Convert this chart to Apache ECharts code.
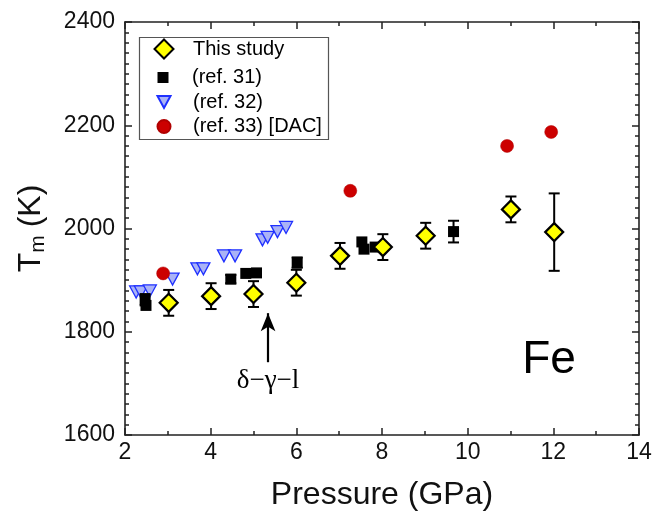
<!DOCTYPE html>
<html>
<head>
<meta charset="utf-8">
<script src="https://cdn.jsdelivr.net/npm/echarts@6/dist/echarts.min.js"></script>
<style>html,body{margin:0;padding:0;background:#fff}#c{width:655px;height:523px}</style>
</head>
<body>
<div id="c"></div>
<script>
// ---- data ----
const thisP = [3.02, 4.01, 5.0, 6.0, 7.02, 8.02, 9.02, 11.01, 12.02];
const thisT = [1856, 1869, 1873, 1895, 1947, 1964, 1986, 2037, 1993];
const thisErr = [25, 25, 25, 25, 25, 25, 25, 25, 75];

const ref31P = [2.47, 2.49, 4.47, 4.82, 5.07, 6.02, 7.53, 7.58, 7.84, 9.67];
const ref31T = [1862, 1851, 1902, 1913, 1914, 1934, 1974, 1960, 1964, 1994];
const ref31Err = [11, 0, 8, 0, 0, 10, 0, 0, 0, 21];

const ref32P = [2.26, 2.37, 2.58, 3.11, 3.69, 3.83, 4.31, 4.57, 5.21, 5.33, 5.56, 5.76];
const ref32T = [1877, 1877, 1879, 1902, 1922, 1922, 1947, 1947, 1978, 1983, 1994, 2002];

const ref33P = [2.89, 7.26, 10.92, 11.95];
const ref33T = [1913, 2073, 2160, 2187];

const seriesNames = ['This study', '(ref. 31)', '(ref. 32)', '(ref. 33) [DAC]'];
const xTicks = [2, 4, 6, 8, 10, 12, 14];
const yTicks = [1600, 1800, 2000, 2200, 2400];
const arrowP = [5.34, 5.34];
const arrowT = [1741, 1836];

// ---- chart ----
const chart = echarts.init(document.getElementById('c'), null, {renderer: 'canvas'});
const FONT = 'Liberation Sans, Arial, sans-serif';
const DOWN_TRI = 'path://M0,0 L12,0 L6,11 Z';

function pairs(P, T) { return P.map((p, i) => [p, T[i]]); }
function errData(P, T, E) {
  const out = [];
  P.forEach((p, i) => { if (E[i] > 0) out.push([p, T[i] - E[i], T[i] + E[i]]); });
  return out;
}
function errSeries(P, T, E, z) {
  return {
    type: 'custom', silent: true, z: z,
    data: errData(P, T, E),
    encode: {x: 0, y: [1, 2]},
    renderItem: function (params, api) {
      const x = api.value(0);
      const lo = api.coord([x, api.value(1)]);
      const hi = api.coord([x, api.value(2)]);
      const w = 5.5;
      const st = {stroke: '#000', lineWidth: 2};
      return {type: 'group', children: [
        {type: 'line', shape: {x1: lo[0], y1: lo[1], x2: hi[0], y2: hi[1]}, style: st},
        {type: 'line', shape: {x1: lo[0] - w, y1: lo[1], x2: lo[0] + w, y2: lo[1]}, style: st},
        {type: 'line', shape: {x1: hi[0] - w, y1: hi[1], x2: hi[0] + w, y2: hi[1]}, style: st}
      ]};
    }
  };
}

const axisLine = {show: true, lineStyle: {color: '#222', width: 1.6}};
const tickIn = {show: true, inside: true, length: 7, lineStyle: {color: '#222', width: 1.5}};

function legendItem(name, top, w, h, icon) {
  const item = icon ? {name: name, icon: icon} : name;
  return {
    data: [item], orient: 'vertical', left: 163 - w / 2, top: top - h / 2,
    itemWidth: w, itemHeight: h, padding: 0, selectedMode: false,
    textStyle: {fontFamily: FONT, fontSize: 20, color: '#000', padding: [0, 0, 0, 24 - w / 2]}
  };
}

const option = {
  animation: false,
  backgroundColor: '#fff',
  grid: {left: 125, right: 16, top: 22, bottom: 88, containLabel: false},
  xAxis: [{
    type: 'value', min: 2, max: 14, interval: 2,
    axisLine: axisLine, axisTick: tickIn,
    minorTick: {show: true, splitNumber: 2, length: 4, lineStyle: {color: '#222', width: 1.5}},
    splitLine: {show: false},
    axisLabel: {fontFamily: FONT, fontSize: 23, color: '#111', margin: 6,
      customValues: xTicks, formatter: v => String(v)},
    name: 'Pressure (GPa)', nameLocation: 'middle', nameGap: 44,
    nameTextStyle: {fontFamily: FONT, fontSize: 32, color: '#111'}
  }, {
    type: 'value', position: 'top', min: 2, max: 14, interval: 2,
    axisLine: axisLine, axisTick: tickIn,
    minorTick: {show: true, splitNumber: 2, length: 4, lineStyle: {color: '#222', width: 1.5}},
    splitLine: {show: false}, axisLabel: {show: false}
  }],
  yAxis: [{
    type: 'value', min: 1600, max: 2400, interval: 200,
    axisLine: axisLine, axisTick: tickIn,
    minorTick: {show: true, splitNumber: 10, length: 4, lineStyle: {color: '#222', width: 1.5}},
    splitLine: {show: false},
    axisLabel: {fontFamily: FONT, fontSize: 23, color: '#111', margin: 10,
      customValues: yTicks, formatter: v => String(v)},
    name: '{t|T}{s|m}{k|(K)}', nameLocation: 'middle', nameGap: 76, nameRotate: 90,
    nameTextStyle: {
      fontFamily: FONT, color: '#111',
      rich: {
        t: {fontFamily: FONT, fontSize: 32, color: '#111'},
        s: {fontFamily: FONT, fontSize: 21, color: '#111', padding: [14, 8, 0, 0]},
        k: {fontFamily: FONT, fontSize: 32, color: '#111'}
      }
    }
  }, {
    type: 'value', position: 'right', min: 1600, max: 2400, interval: 200,
    axisLine: axisLine, axisTick: tickIn,
    minorTick: {show: true, splitNumber: 10, length: 4, lineStyle: {color: '#222', width: 1.5}},
    splitLine: {show: false}, axisLabel: {show: false}
  }],
  legend: [
    legendItem(seriesNames[0], 48, 19, 19),
    legendItem(seriesNames[1], 73, 11, 11),
    legendItem(seriesNames[2], 98, 13, 12, DOWN_TRI),
    legendItem(seriesNames[3], 123, 13, 13)
  ],
  graphic: [
    {type: 'rect', left: 137, top: 35, z: 0,
      shape: {width: 189, height: 102},
      style: {fill: 'none', stroke: '#555', lineWidth: 1.2}},
    {type: 'text', x: 549, y: 360, z: 10,
      style: {text: 'Fe', fontFamily: FONT, fontSize: 46, fill: '#000', align: 'center', verticalAlign: 'middle'}},
    {type: 'text', x: 268, y: 381, z: 10,
      style: {text: 'δ−γ−l', fontFamily: 'Liberation Serif, Times New Roman, serif', fontSize: 27, fill: '#000', align: 'center', verticalAlign: 'middle'}}
  ],
  series: [
    {
      name: seriesNames[2], type: 'scatter', z: 2,
      symbol: 'triangle', symbolRotate: 180, symbolSize: [13, 12],
      itemStyle: {color: '#aab3f6', borderColor: '#1f30ff', borderWidth: 1.3, opacity: 1},
      data: pairs(ref32P, ref32T)
    },
    errSeries(ref31P, ref31T, ref31Err, 3),
    {
      name: seriesNames[1], type: 'scatter', z: 3,
      symbol: 'rect', symbolSize: 11,
      itemStyle: {color: '#000', opacity: 1},
      data: pairs(ref31P, ref31T)
    },
    {
      name: seriesNames[3], type: 'scatter', z: 4,
      symbol: 'circle', symbolSize: 13,
      itemStyle: {color: '#cc0000', borderColor: '#b00000', borderWidth: 0.5, opacity: 1},
      data: pairs(ref33P, ref33T)
    },
    errSeries(thisP, thisT, thisErr, 5),
    {
      name: seriesNames[0], type: 'scatter', z: 6,
      symbol: 'diamond', symbolSize: 18,
      itemStyle: {color: '#ffff00', borderColor: '#000', borderWidth: 2.2, opacity: 1},
      data: pairs(thisP, thisT),
      markLine: {
        silent: true, symbol: ['none', 'arrow'], symbolSize: [11, 18],
        lineStyle: {color: '#000', width: 2.2, type: 'solid'},
        label: {show: false},
        data: [[{coord: [arrowP[0], arrowT[0]]}, {coord: [arrowP[1], arrowT[1]]}]]
      }
    }
  ]
};
chart.setOption(option);
</script>
</body>
</html>
